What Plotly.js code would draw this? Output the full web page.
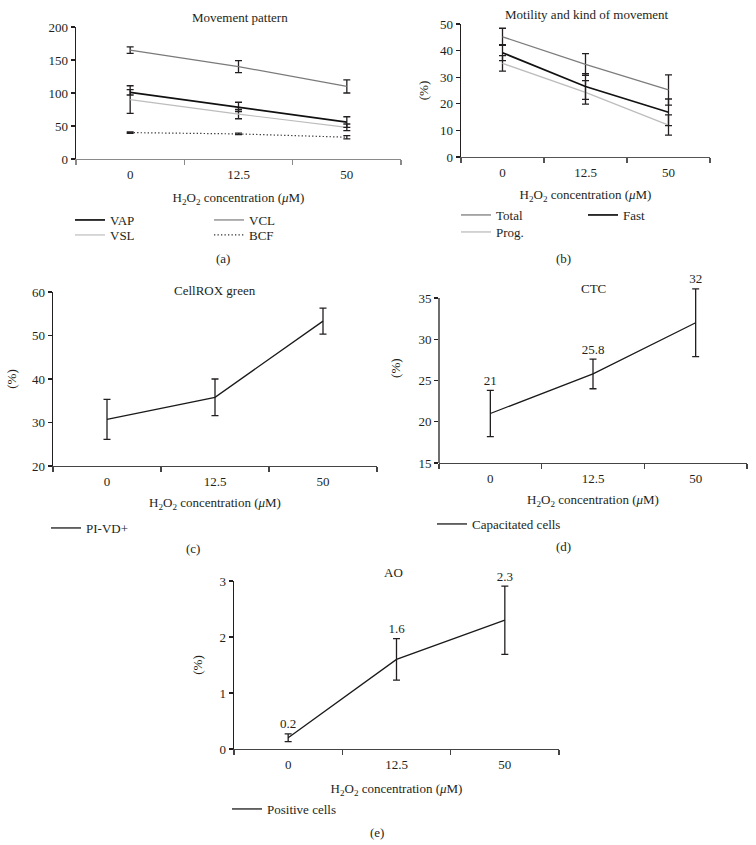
<!DOCTYPE html>
<html>
<head>
<meta charset="utf-8">
<script src="https://cdn.plot.ly/plotly-3.0.1.min.js"></script>
<style>
html, body { margin: 0; padding: 0; background: #fff; }
#chart { width: 756px; height: 845px; }
</style>
</head>
<body>
<div id="chart"></div>
<script>
// ---------- DATA ----------
const concentrations = ['0', '12.5', '50'];

// (a) Movement pattern
const vap = [101, 79, 56];
const vapErr = [4, 7, 8];
const vcl = [165, 140, 110];
const vclErr = [5, 9, 10];
const vsl = [90, 68, 48];
const vslErr = [21, 7, 5];
const bcf = [40, 38, 33];
const bcfErr = [1, 1.2, 2.5];

// (b) Motility and kind of movement
const total = [45.2, 34.8, 25.2];
const totalErr = [3.2, 4.1, 5.7];
const fast = [39.2, 26.5, 16.8];
const fastErr = [3, 4.8, 5];
const prog = [35.2, 24.3, 12];
const progErr = [2.9, 4.4, 3.8];

// (c) CellROX green
const pivd = [30.7, 35.8, 53.3];
const pivdErr = [4.6, 4.2, 3];

// (d) CTC
const capacitated = [21, 25.8, 32];
const capacitatedErr = [2.8, 1.8, 4.1];
const capacitatedLabels = ['21', '25.8', '32'];

// (e) AO
const positive = [0.2, 1.6, 2.3];
const positiveErr = [0.07, 0.37, 0.61];
const positiveLabels = ['0.2', '1.6', '2.3'];

// ---------- HELPERS ----------
const W = 756, H = 845;
const FONT = 'Liberation Serif, Times New Roman, serif';
const FS = 13;
const TXT = '#231f20';
const px = v => v / W;
const py = v => 1 - v / H;

function line(x, y, err, name, color, width, dash, xa, ya, legend) {
  return {
    type: 'scatter', mode: 'lines', x: x, y: y, name: name,
    xaxis: xa, yaxis: ya, legend: legend, cliponaxis: false,
    line: { color: color, width: width, dash: dash || 'solid' },
    error_y: { type: 'data', array: err, visible: true, color: '#231f20', thickness: 1.3, width: 3.5 },
    hoverinfo: 'skip'
  };
}
function labels(x, y, err, text, xa, ya) {
  return {
    type: 'scatter', mode: 'markers+text', x: x, y: y.map((v, i) => v + err[i]),
    text: text, textposition: 'top center', showlegend: false,
    marker: { size: 2, opacity: 0 },
    textfont: { family: FONT, size: FS, color: TXT },
    xaxis: xa, yaxis: ya, cliponaxis: false, hoverinfo: 'skip'
  };
}

const traces = [
  line(concentrations, vcl, vclErr, 'VCL', '#7a7a7a', 1.2, 'solid', 'x', 'y', 'legend3'),
  line(concentrations, vsl, vslErr, 'VSL', '#bdbdbd', 1.2, 'solid', 'x', 'y', 'legend2'),
  line(concentrations, vap, vapErr, 'VAP', '#111111', 1.7, 'solid', 'x', 'y', 'legend'),
  line(concentrations, bcf, bcfErr, 'BCF', '#333333', 1.2, '1.3px,2.2px', 'x', 'y', 'legend4'),

  line(concentrations, total, totalErr, 'Total', '#7d7d7d', 1.3, 'solid', 'x2', 'y2', 'legend5'),
  line(concentrations, prog, progErr, 'Prog.', '#bdbdbd', 1.3, 'solid', 'x2', 'y2', 'legend6'),
  line(concentrations, fast, fastErr, 'Fast', '#111111', 1.7, 'solid', 'x2', 'y2', 'legend7'),

  line(concentrations, pivd, pivdErr, 'PI-VD+', '#1a1a1a', 1.3, 'solid', 'x3', 'y3', 'legend8'),

  line(concentrations, capacitated, capacitatedErr, 'Capacitated cells', '#1a1a1a', 1.3, 'solid', 'x4', 'y4', 'legend9'),
  labels(concentrations, capacitated, capacitatedErr, capacitatedLabels, 'x4', 'y4'),

  line(concentrations, positive, positiveErr, 'Positive cells', '#1a1a1a', 1.3, 'solid', 'x5', 'y5', 'legend10'),
  labels(concentrations, positive, positiveErr, positiveLabels, 'x5', 'y5')
];

const xTitle = 'H<sub>2</sub>O<sub>2</sub> concentration (<i>μ</i>M)';

function xaxis(l, r, anchor, lineColor, standoff) {
  return {
    domain: [px(l), px(r)], anchor: anchor, type: 'category',
    range: [-0.5, 2.5], tickson: 'boundaries', ticks: 'outside', ticklen: 5,
    tickcolor: lineColor, tickwidth: 1.2,
    showline: true, linecolor: lineColor, linewidth: 1.3,
    showgrid: false, zeroline: false, fixedrange: true,
    ticklabelstandoff: 3,
    tickfont: { family: FONT, size: FS, color: TXT },
    title: { text: xTitle, font: { family: FONT, size: FS, color: TXT }, standoff: standoff }
  };
}
// top/bottom in px of the drawn axis; range = [lo, hi]; extraTop lets error bars/labels above the axis end show
function yaxis(top, bottom, anchor, range, dtick, title, standoff, extraTop) {
  const ext = extraTop || 0;
  const pxPerUnit = (bottom - top) / (range[1] - range[0]);
  const topPx = top - ext * pxPerUnit;
  return {
    domain: [py(bottom), py(topPx)], anchor: anchor, range: [range[0], range[1] + ext],
    tickmode: 'linear', tick0: range[0], dtick: dtick,
    ticks: 'outside', ticklen: 4, tickcolor: '#231f20', tickwidth: 1.2,
    showline: ext === 0, linecolor: '#231f20', linewidth: 1.3,
    showgrid: false, zeroline: false, fixedrange: true,
    tickfont: { family: FONT, size: FS, color: TXT },
    title: { text: title || '', font: { family: FONT, size: FS, color: TXT }, standoff: standoff || 8 }
  };
}
function legendAt(x, y) {
  return {
    x: px(x), y: py(y), xanchor: 'left', yanchor: 'middle',
    bgcolor: 'rgba(0,0,0,0)', borderwidth: 0,
    font: { family: FONT, size: FS, color: TXT },
    itemclick: false, itemdoubleclick: false
  };
}
function note(text, x, y) {
  return {
    text: text, xref: 'paper', yref: 'paper', x: px(x), y: py(y),
    xanchor: 'center', yanchor: 'middle', showarrow: false,
    font: { family: FONT, size: FS, color: TXT }
  };
}

const dRange = [15, 35];

const layout = {
  width: W, height: H,
  margin: { l: 0, r: 0, t: 0, b: 0 },
  paper_bgcolor: '#ffffff', plot_bgcolor: '#ffffff',
  font: { family: FONT, color: TXT },
  hovermode: false,

  xaxis: xaxis(76, 401, 'y', '#8a8a8a', 12),
  yaxis: yaxis(27, 159, 'x', [0, 200], 50),
  xaxis2: xaxis(461, 710, 'y2', '#555555', 11),
  yaxis2: yaxis(24, 157, 'x2', [0, 50], 10, '(%)', 8),
  xaxis3: xaxis(53, 377, 'y3', '#444444', 10),
  yaxis3: yaxis(292, 466, 'x3', [20, 60], 10, '(%)', 12),
  xaxis4: xaxis(439, 747, 'y4', '#444444', 10),
  yaxis4: yaxis(298, 463, 'x4', dRange, 5, '(%)', 14, 3),
  xaxis5: xaxis(234, 559, 'y5', '#444444', 13),
  yaxis5: yaxis(581, 749, 'x5', [0, 3], 1, '(%)', 14),

  shapes: [
    // y-axis line of panel (d), ending at the top of its range like the other axes
    { type: 'line', xref: 'x4 domain', yref: 'y4', x0: 0, x1: 0, y0: dRange[0], y1: dRange[1],
      line: { color: '#231f20', width: 1.3 }, layer: 'above' }
  ],

  legend: legendAt(70, 220),
  legend2: legendAt(70, 235),
  legend3: legendAt(209, 220),
  legend4: legendAt(209, 235),
  legend5: legendAt(456, 215),
  legend6: legendAt(456, 232),
  legend7: legendAt(583, 215),
  legend8: legendAt(46, 528),
  legend9: legendAt(432, 524),
  legend10: legendAt(227, 809),

  annotations: [
    note('Movement pattern', 240, 17),
    note('Motility and kind of movement', 587, 14),
    note('CellROX green', 215, 291),
    note('CTC', 593, 288),
    note('AO', 393, 572),
    note('(a)', 223, 258),
    note('(b)', 563, 258),
    note('(c)', 193, 548),
    note('(d)', 563, 546),
    note('(e)', 377, 832)
  ]
};

Plotly.newPlot('chart', traces, layout, { staticPlot: true, displayModeBar: false });
</script>
</body>
</html>
